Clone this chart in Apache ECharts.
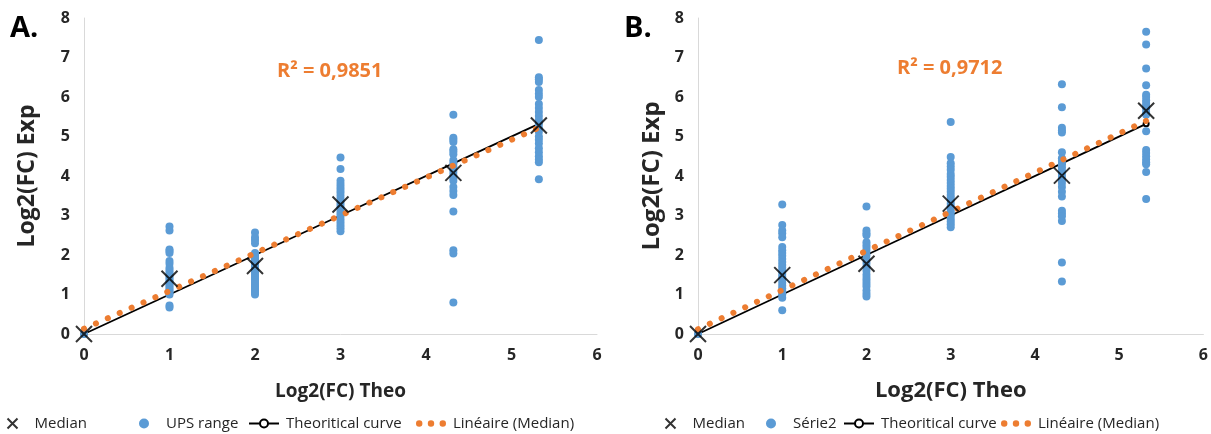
<!DOCTYPE html>
<html><head><meta charset="utf-8">
<script src="https://cdn.jsdelivr.net/npm/echarts@6/dist/echarts.min.js"></script>
<style>html,body{margin:0;padding:0;background:#fff}#c{width:1211px;height:434px}</style>
</head><body><div id="c"></div>
<script>
// ---- data ----
const xTheo = [0, 1, 2, 3, 4.32, 5.32];
const theoY = [0, 1, 2, 3, 4.32, 5.32];
const xTicks = [0, 1, 2, 3, 4, 5, 6];
const yTicks = [0, 1, 2, 3, 4, 5, 6, 7, 8];

const medianA = [0, 1.40, 1.72, 3.28, 4.08, 5.28];
const medianB = [0, 1.49, 1.78, 3.30, 4.01, 5.65];
const r2A = 'R² = 0,9851';
const r2B = 'R² = 0,9712';

// UPS range (panel A), one list per theoretical x
const upsA0 = [0];
const upsA1 = [2.72, 2.62, 2.14, 2.10, 2.05, 1.85, 1.78, 1.68, 1.62, 1.56, 1.50, 1.45, 1.40, 1.35, 1.30, 1.25, 1.20, 1.15, 1.10, 1.05, 1.00, 0.72, 0.67];
const upsA2 = [2.57, 2.45, 2.38, 2.30, 2.05, 2.00, 1.95, 1.90, 1.85, 1.80, 1.75, 1.70, 1.65, 1.60, 1.55, 1.50, 1.45, 1.40, 1.35, 1.30, 1.25, 1.20, 1.15, 1.10, 1.05, 1.00];
const upsA3 = [4.47, 4.18, 3.88, 3.80, 3.72, 3.65, 3.58, 3.50, 3.42, 3.35, 3.28, 3.20, 3.12, 3.05, 2.98, 2.90, 2.82, 2.75, 2.68, 2.60];
const upsA4 = [5.55, 4.97, 4.92, 4.86, 4.68, 4.62, 4.55, 4.40, 4.32, 4.25, 4.18, 4.10, 4.02, 3.95, 3.88, 3.72, 3.62, 3.52, 3.10, 2.12, 2.04, 0.80];
const upsA5 = [7.44, 6.50, 6.45, 6.38, 6.18, 6.08, 6.00, 5.82, 5.72, 5.62, 5.52, 5.42, 5.32, 5.22, 5.12, 5.00, 4.92, 4.82, 4.70, 4.60, 4.50, 4.42, 4.35, 3.92];

// Série2 (panel B)
const upsB0 = [0];
const upsB1 = [3.28, 2.76, 2.62, 2.55, 2.45, 2.20, 2.12, 2.05, 1.98, 1.90, 1.82, 1.75, 1.68, 1.60, 1.52, 1.45, 1.38, 1.30, 1.22, 1.15, 1.08, 1.00, 0.92, 0.60];
const upsB2 = [3.23, 2.62, 2.55, 2.50, 2.32, 2.25, 2.18, 2.10, 2.00, 1.90, 1.80, 1.70, 1.60, 1.50, 1.42, 1.35, 1.27, 1.20, 1.10, 1.02, 0.95];
const upsB3 = [5.37, 4.48, 4.32, 4.24, 4.16, 4.05, 3.98, 3.90, 3.82, 3.75, 3.68, 3.60, 3.52, 3.45, 3.38, 3.30, 3.22, 3.15, 3.08, 3.00, 2.92, 2.85, 2.78, 2.70];
const upsB4 = [6.32, 5.74, 5.22, 5.15, 5.10, 4.60, 4.45, 4.38, 4.30, 4.22, 4.14, 4.06, 3.98, 3.90, 3.82, 3.72, 3.60, 3.48, 3.12, 3.05, 2.98, 2.86, 1.81, 1.33];
const upsB5 = [7.65, 7.33, 6.72, 6.30, 6.06, 6.00, 5.92, 5.85, 5.78, 5.70, 5.62, 5.55, 5.13, 4.66, 4.58, 4.50, 4.42, 4.35, 4.30, 4.10, 3.42];

// ---- helpers ----
const colsA = [upsA0, upsA1, upsA2, upsA3, upsA4, upsA5];
const colsB = [upsB0, upsB1, upsB2, upsB3, upsB4, upsB5];
function cloud(cols) { const out = []; cols.forEach((c, i) => c.forEach(v => out.push([xTheo[i], v]))); return out; }
function pairs(xs, ys) { return xs.map((x, i) => [x, ys[i]]); }
function fit(xs, ys) {
  const n = xs.length, mx = xs.reduce((a, b) => a + b) / n, my = ys.reduce((a, b) => a + b) / n;
  let sxy = 0, sxx = 0;
  xs.forEach((x, i) => { sxy += (x - mx) * (ys[i] - my); sxx += (x - mx) * (x - mx); });
  const s = sxy / sxx, b = my - s * mx;
  const x0 = Math.min(...xs), x1 = Math.max(...xs);
  return [[x0, b + s * x0], [x1, b + s * x1]];
}

const BLUE = '#5B9BD5', ORANGE = '#ED7D31', INK = '#262626';
const FONT = '"Open Sans", "Liberation Sans", sans-serif';
const xMark = 'path://M0,0L10,10M10,0L0,10';
const dots3 = 'path://M0,3a3,3 0 1,0 6,0a3,3 0 1,0 -6,0M11,3a3,3 0 1,0 6,0a3,3 0 1,0 -6,0M22,3a3,3 0 1,0 6,0a3,3 0 1,0 -6,0';

function xAx(gi, nameSize, gap) {
  return { gridIndex: gi, type: 'value', min: 0, max: 6, interval: 1,
    name: 'Log2(FC) Theo', nameLocation: 'middle', nameGap: gap,
    nameTextStyle: { fontFamily: FONT, fontWeight: 'bold', fontSize: nameSize, color: INK },
    axisLine: { show: true, lineStyle: { color: '#d9d9d9', width: 1 } },
    axisTick: { show: false }, splitLine: { show: false },
    axisLabel: { margin: 13, fontFamily: FONT, fontWeight: 'bold', fontSize: 16, color: INK,
      formatter: v => xTicks.includes(v) ? String(v) : '' } };
}
function yAx(gi, nameSize, gap) {
  return { gridIndex: gi, type: 'value', min: 0, max: 8, interval: 1,
    name: 'Log2(FC) Exp', nameLocation: 'middle', nameGap: gap,
    nameTextStyle: { fontFamily: FONT, fontWeight: 'bold', fontSize: nameSize, color: INK },
    axisLine: { show: true, lineStyle: { color: '#d9d9d9', width: 1 } },
    axisTick: { show: false }, splitLine: { show: false },
    axisLabel: { margin: 14, fontFamily: FONT, fontWeight: 'bold', fontSize: 16, color: INK,
      formatter: v => yTicks.includes(v) ? String(v) : '' } };
}
function panelSeries(gi, cols, med, cloudName) {
  return [
    { name: 'Theoritical curve', type: 'line', xAxisIndex: gi, yAxisIndex: gi, data: pairs(xTheo, theoY),
      symbol: 'emptyCircle', symbolSize: 5, showSymbol: true,
      itemStyle: { color: '#000', borderColor: '#000', borderWidth: 1 },
      lineStyle: { color: '#000', width: 1.8 }, z: 2, silent: true },
    { name: cloudName, type: 'scatter', xAxisIndex: gi, yAxisIndex: gi, data: cloud(cols),
      symbol: 'circle', symbolSize: 8, itemStyle: { color: BLUE, opacity: 1 }, z: 3, silent: true },
    { name: 'Linéaire (Median)', type: 'line', xAxisIndex: gi, yAxisIndex: gi, data: fit(xTheo, med),
      symbol: 'none', lineStyle: { color: ORANGE, width: 6, type: [0.1, 12.9], cap: 'round' },
      itemStyle: { color: ORANGE }, z: 4, silent: true },
    { name: 'Median', type: 'scatter', xAxisIndex: gi, yAxisIndex: gi, data: pairs(xTheo, med),
      symbol: xMark, symbolSize: 16,
      itemStyle: { color: 'none', borderColor: '#000', borderWidth: 2 }, z: 5, silent: true }
  ];
}
function leg(left, item) {
  return { left: left, top: 416, orient: 'horizontal', itemWidth: 30, itemHeight: 10, itemGap: 0,
    selectedMode: false, padding: 0,
    textStyle: { fontFamily: FONT, fontSize: 15, color: INK, padding: [0, 0, 0, 2] },
    data: [item] };
}
function legendsFor(lefts, cloudName) {
  return [
    leg(lefts[0], { name: 'Median', icon: xMark, itemStyle: { color: 'none', borderColor: '#000', borderWidth: 2 } }),
    leg(lefts[1], { name: cloudName, icon: 'circle', itemStyle: { color: BLUE } }),
    leg(lefts[2], { name: 'Theoritical curve' }),
    leg(lefts[3], { name: 'Linéaire (Median)', icon: dots3, itemStyle: { color: ORANGE } })
  ];
}

const chart = echarts.init(document.getElementById('c'), null, { renderer: 'canvas' });
chart.setOption({
  animation: false,
  backgroundColor: '#fff',
  grid: [
    { left: 84, top: 18, width: 513, height: 316 },
    { left: 698, top: 18, width: 507, height: 316 }
  ],
  xAxis: [xAx(0, 19, 48), xAx(1, 22, 46)],
  yAxis: [yAx(0, 23, 45), yAx(1, 24, 34)],
  legend: [...legendsFor([5, 139, 248, 416], 'UPS range'), ...legendsFor([663, 766, 843, 1001], 'Série2')],
  series: [...panelSeries(0, colsA, medianA, 'UPS range'), ...panelSeries(1, colsB, medianB, 'Série2')],
  graphic: [
    { type: 'text', left: 10, top: 14, style: { text: 'A.', fontFamily: FONT, fontWeight: 'bold', fontSize: 29, fill: '#000' } },
    { type: 'text', left: 624, top: 14, style: { text: 'B.', fontFamily: FONT, fontWeight: 'bold', fontSize: 29, fill: '#000' } },
    { type: 'text', left: 277, top: 61, style: { text: r2A, fontFamily: FONT, fontWeight: 'bold', fontSize: 20, fill: ORANGE } },
    { type: 'text', left: 897, top: 58, style: { text: r2B, fontFamily: FONT, fontWeight: 'bold', fontSize: 20, fill: ORANGE } }
  ]
});
</script></body></html>
